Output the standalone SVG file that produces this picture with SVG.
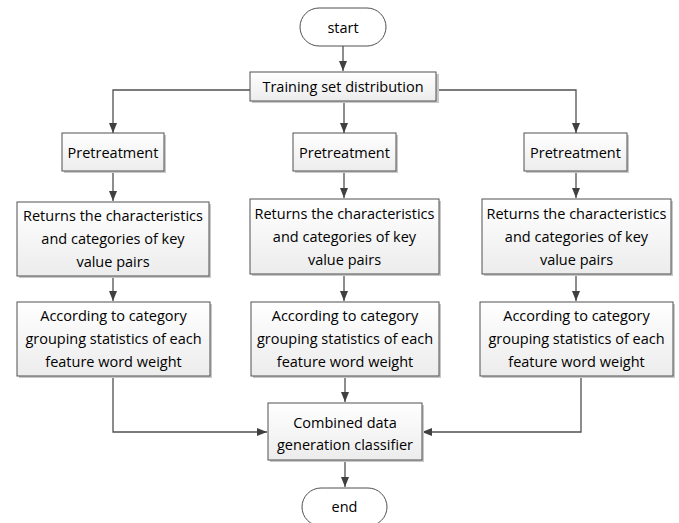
<svg xmlns="http://www.w3.org/2000/svg" width="679" height="523" viewBox="0 0 679 523">
<defs>
<linearGradient id="g" x1="0" y1="0" x2="0" y2="1">
<stop offset="0" stop-color="#ffffff"/>
<stop offset="1" stop-color="#ececec"/>
</linearGradient>
<marker id="ah" markerWidth="10" markerHeight="10" viewBox="0 0 10 10" refX="10" refY="5" orient="auto" markerUnits="userSpaceOnUse">
<path d="M0,1 L10,5 L0,9 Z" fill="#404040"/>
</marker>
</defs>
<style>
.box{fill:url(#g);stroke:#505050;stroke-width:1}
.sh{fill:#c8c8c8;stroke:none}
.t{font-family:"Open Sans","Liberation Sans",sans-serif;font-size:14.5px;fill:#000;text-anchor:middle}
.c{fill:none;stroke:#505050;stroke-width:1.3}
</style>
<rect width="679" height="523" fill="#fff"/>
<g id="connectors">
<path class="c" d="M343,46 V71" marker-end="url(#ah)"/>
<path class="c" d="M250,90 H113 V133" marker-end="url(#ah)"/>
<path class="c" d="M437,90 H576 V133" marker-end="url(#ah)"/>
<path class="c" d="M344,101 V133" marker-end="url(#ah)"/>
<path class="c" d="M113,172 V201" marker-end="url(#ah)"/>
<path class="c" d="M344,172 V198" marker-end="url(#ah)"/>
<path class="c" d="M576,172 V198" marker-end="url(#ah)"/>
<path class="c" d="M113,276 V301" marker-end="url(#ah)"/>
<path class="c" d="M344,274 V301" marker-end="url(#ah)"/>
<path class="c" d="M576,274 V301" marker-end="url(#ah)"/>
<path class="c" d="M113,376 V432 H267" marker-end="url(#ah)"/>
<path class="c" d="M581,376 V432 H422" marker-end="url(#ah)"/>
<path class="c" d="M345,376 V402" marker-end="url(#ah)"/>
<path class="c" d="M345,460 V487" marker-end="url(#ah)"/>
</g>
<g id="start">
<rect class="box" x="300" y="8" width="86" height="38" rx="19" style="fill:#fff"/>
<text class="t" x="343" y="32.5">start</text>
</g>
<g id="training">
<rect class="sh" x="252" y="74" width="187" height="29"/>
<rect class="box" x="250" y="72" width="186" height="29"/>
<text class="t" x="343" y="92">Training set distribution</text>
</g>
<g id="pre1">
<rect class="sh" x="64" y="135" width="102" height="38"/>
<rect class="box" x="62" y="133" width="102" height="38"/>
<text class="t" x="113" y="157.5">Pretreatment</text>
</g>
<g id="pre2">
<rect class="sh" x="295" y="135" width="103" height="38"/>
<rect class="box" x="293" y="133" width="103" height="38"/>
<text class="t" x="344.5" y="157.5">Pretreatment</text>
</g>
<g id="pre3">
<rect class="sh" x="526" y="135" width="103" height="38"/>
<rect class="box" x="524" y="133" width="103" height="38"/>
<text class="t" x="575.5" y="157.5">Pretreatment</text>
</g>
<g id="ret1">
<rect class="sh" x="19" y="204" width="192" height="74"/>
<rect class="box" x="17" y="202" width="192" height="74"/>
<text class="t" x="113" y="220.5">Returns the characteristics</text>
<text class="t" x="113" y="243.5">and categories of key</text>
<text class="t" x="113" y="266.5">value pairs</text>
</g>
<g id="ret2">
<rect class="sh" x="252" y="201" width="189" height="75"/>
<rect class="box" x="250" y="199" width="189" height="75"/>
<text class="t" x="344.5" y="218.5">Returns the characteristics</text>
<text class="t" x="344.5" y="241.5">and categories of key</text>
<text class="t" x="344.5" y="264.5">value pairs</text>
</g>
<g id="ret3">
<rect class="sh" x="484" y="201" width="189" height="75"/>
<rect class="box" x="482" y="199" width="189" height="75"/>
<text class="t" x="576.5" y="218.5">Returns the characteristics</text>
<text class="t" x="576.5" y="241.5">and categories of key</text>
<text class="t" x="576.5" y="264.5">value pairs</text>
</g>
<g id="acc1">
<rect class="sh" x="19" y="304" width="193" height="74"/>
<rect class="box" x="17" y="302" width="193" height="74"/>
<text class="t" x="113.5" y="320.5">According to category</text>
<text class="t" x="113.5" y="343.5">grouping statistics of each</text>
<text class="t" x="113.5" y="366.5">feature word weight</text>
</g>
<g id="acc2">
<rect class="sh" x="253" y="304" width="188" height="74"/>
<rect class="box" x="251" y="302" width="188" height="74"/>
<text class="t" x="345" y="320.5">According to category</text>
<text class="t" x="345" y="343.5">grouping statistics of each</text>
<text class="t" x="345" y="366.5">feature word weight</text>
</g>
<g id="acc3">
<rect class="sh" x="482" y="304" width="193" height="74"/>
<rect class="box" x="480" y="302" width="193" height="74"/>
<text class="t" x="576.5" y="320.5">According to category</text>
<text class="t" x="576.5" y="343.5">grouping statistics of each</text>
<text class="t" x="576.5" y="366.5">feature word weight</text>
</g>
<g id="combined">
<rect class="sh" x="270" y="405" width="154" height="57"/>
<rect class="box" x="268" y="403" width="154" height="57"/>
<text class="t" x="345" y="427.5">Combined data</text>
<text class="t" x="345" y="449.5">generation classifier</text>
</g>
<g id="end">
<rect class="box" x="302" y="488" width="85" height="38" rx="19" style="fill:#fff"/>
<text class="t" x="344.5" y="511.5">end</text>
</g>
</svg>
